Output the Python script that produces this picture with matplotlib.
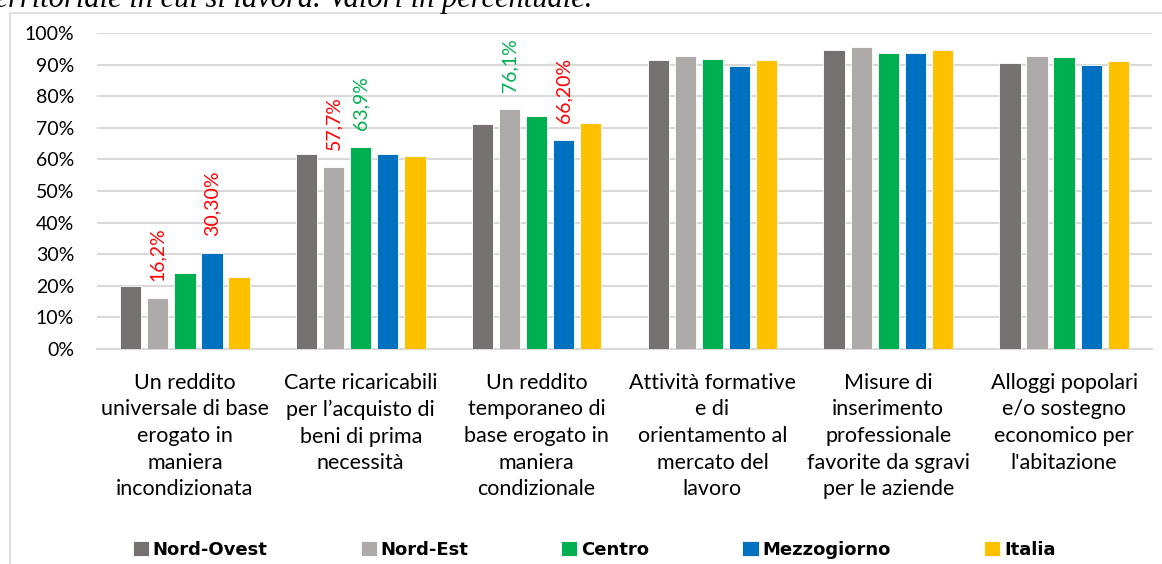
import matplotlib
matplotlib.use("Agg")
import matplotlib.pyplot as plt
import numpy as np
from matplotlib.patches import Rectangle
from matplotlib.ticker import PercentFormatter, MultipleLocator

categories = [
    "Un reddito\nuniversale di base\nerogato in\nmaniera\nincondizionata",
    "Carte ricaricabili\nper l\u2019acquisto di\nbeni di prima\nnecessit\u00e0",
    "Un reddito\ntemporaneo di\nbase erogato in\nmaniera\ncondizionale",
    "Attivit\u00e0 formative\ne di\norientamento al\nmercato del\nlavoro",
    "Misure di\ninserimento\nprofessionale\nfavorite da sgravi\nper le aziende",
    "Alloggi popolari\ne/o sostegno\neconomico per\nl'abitazione",
]
series_names = ["Nord-Ovest", "Nord-Est", "Centro", "Mezzogiorno", "Italia"]
nord_ovest = [20.0, 61.8, 71.2, 91.4, 94.7, 90.4]
nord_est = [16.2, 57.7, 76.1, 92.8, 95.6, 92.8]
centro = [24.0, 63.9, 73.6, 91.9, 93.7, 92.5]
mezzogiorno = [30.3, 61.8, 66.2, 89.6, 93.8, 90.0]
italia = [22.7, 61.2, 71.5, 91.3, 94.5, 91.2]
colors = ["#767171", "#AEAAAA", "#00B050", "#0070C0", "#FFC000"]

# highlighted labels: (category index, series index, text, color)
highlights = [
    (0, 1, "16,2%", "#FF0000"),
    (0, 3, "30,30%", "#FF0000"),
    (1, 1, "57,7%", "#FF0000"),
    (1, 2, "63,9%", "#00B050"),
    (2, 1, "76,1%", "#00B050"),
    (2, 3, "66,20%", "#FF0000"),
]
title_text = "Grafico 5. Preferenze per area territoriale in cui si lavora. Valori in percentuale."

W, H = 1162, 564
fig = plt.figure(figsize=(W / 100, H / 100), dpi=100)
font = ["Lato", "DejaVu Sans"]

# outer chart border
fig.patches.append(Rectangle((9.5 / W, -0.01), (W - 9.5) / W + 0.01, (H - 12.5) / H + 0.01,
                             transform=fig.transFigure, fill=False,
                             edgecolor="#D9D9D9", linewidth=1.2))
# cut-off title (the reference image crops it at the top)
fig.text(592 / W, 1 - 7 / H, title_text, ha="right", va="baseline",
         fontsize=22, fontstyle="italic", family=["Liberation Serif"], color="#000000")

ax = fig.add_axes([97 / W, (H - 349) / H, (1152 - 97) / W, (349 - 33) / H])
data = [nord_ovest, nord_est, centro, mezzogiorno, italia]
x = np.arange(len(categories))
pitch = 0.154
bw = 0.121
for i, (name, vals, c) in enumerate(zip(series_names, data, colors)):
    ax.bar(x + (i - 2) * pitch, vals, width=bw, color=c, label=name,
           edgecolor="white", linewidth=0.6, zorder=3)

for ci, si, txt, col in highlights:
    ax.annotate(txt, (x[ci] + (si - 2) * pitch, data[si][ci]),
                xytext=(0, 17), textcoords="offset pixels",
                rotation=90, ha="center", va="bottom", color=col,
                fontsize=14, family=font)

ax.set_xlim(-0.5, len(categories) - 0.5)
ax.set_ylim(0, 100)
ax.yaxis.set_major_locator(MultipleLocator(10))
ax.yaxis.set_major_formatter(PercentFormatter(decimals=0))
ax.grid(axis="y", color="#D9D9D9", linewidth=1.5, zorder=0)
for s in ["top", "right", "left"]:
    ax.spines[s].set_visible(False)
ax.spines["bottom"].set_color("#D9D9D9")
ax.spines["bottom"].set_linewidth(1.5)
ax.tick_params(axis="both", length=0, labelsize=14, colors="#000000")
ax.tick_params(axis="y", pad=16.5)
ax.tick_params(axis="x", pad=17)
ax.set_xticks(x)
ax.set_xticklabels(categories, family=font, fontsize=15.5, linespacing=1.42, va="top")
for lab in ax.get_yticklabels():
    lab.set_family(font)

leg = fig.legend(loc="center", bbox_to_anchor=(594 / W, 1 - 550 / H), ncol=5, frameon=False,
                 prop={"family": ["DejaVu Sans"], "weight": "bold", "size": 13},
                 handlelength=0.89, handleheight=0.89, handletextpad=0.22, columnspacing=5.15,
                 borderpad=0, borderaxespad=0)

fig.savefig("out.png", dpi=100)
